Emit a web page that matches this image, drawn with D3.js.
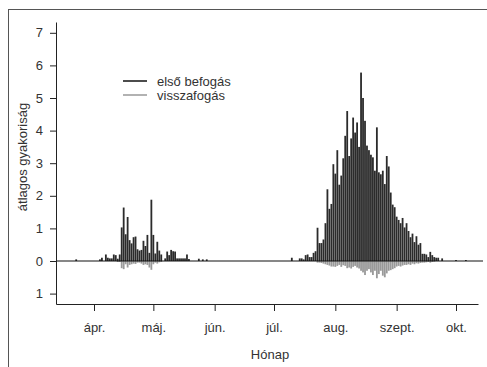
<!DOCTYPE html>
<html>
<head>
<meta charset="utf-8">
<script src="https://cdn.jsdelivr.net/npm/d3@7"></script>
<style>
  html, body { margin: 0; padding: 0; background: #fff; }
  svg { display: block; }
  text { font-family: "Liberation Sans", Arial, Helvetica, sans-serif; }
</style>
</head>
<body>
<svg id="chart" width="487" height="367"></svg>
<script>
// Daily mean frequencies, one value per day starting on day 1 of each month.
// First captures (első befogás), drawn upwards from zero.
const marFirst = [0,0,0,0,0,0,0,0,0,0,0,0,0,0,0,0,0,0,0,0,0,0,0.05];
const aprFirst = [0,0,0,0.05,0.1,0,0.2,0.1,0.08,0.08,
                  0.2,0.18,0.07,0.2,1.03,1.64,0.82,1.35,0.64,0.54,
                  0.73,0.75,0.36,0.32,0.34,0.62,0.46,0.8,0.25,1.88];
const mayFirst = [0.8,0.23,0.59,0.32,0.2,0,0.08,0.29,0.18,0.34,
                  0.3,0.29,0.08,0.08,0.08,0.08,0.08,0.2,0.06,0,
                  0,0,0,0.07,0,0.05,0,0.05,0,0,0];
const junFirst = [];
const julFirst = [0,0,0,0,0,0,0,0,0,0.1,
                  0,0,0,0.08,0.08,0.05,0.18,0.2,0.12,0.12,
                  0.25,0.3,1.02,0.55,0.55,0.66,1.16,2.2,1.6,1.75,
                  2.97];
const augFirst = [2.68,3.4,2.34,2.62,3.15,3.84,4.6,3.22,3.76,4.4,
                  3.94,4.25,3.5,5.78,5.0,4.3,3.54,3.4,3.26,3.18,
                  2.77,4.1,2.72,2.66,2.77,2.36,3.22,2.9,2.1,1.73,
                  1.65];
const sepFirst = [1.36,1.26,1.16,1.32,1.03,1.16,0.92,0.73,0.84,0.58,
                  0.76,0.5,0.55,0.22,0.22,0.2,0.12,0.28,0.18,0.12,
                  0.1,0.1,0,0.08,0,0,0,0,0,0];
const octFirst = [0.03,0,0,0,0,0.03];

// Recaptures (visszafogás), drawn downwards from zero.
const aprRecap = [0,0,0,0,0,0,0,0,0,0,
                  0,0,0.03,0.03,0.22,0.25,0.1,0.2,0.12,0.1,
                  0.08,0.09,0.05,0.05,0.08,0.12,0.1,0.12,0.2,0.27];
const mayRecap = [0.1,0.05,0.08,0.04,0.03];
const julRecap = [0,0,0,0,0,0,0,0,0,0,
                  0,0,0,0,0,0,0,0,0,0,
                  0,0,0.05,0.05,0.06,0.08,0.1,0.12,0.14,0.17,
                  0.17];
const augRecap = [0.18,0.15,0.12,0.18,0.13,0.15,0.22,0.2,0.23,0.18,
                  0.15,0.2,0.23,0.3,0.35,0.43,0.3,0.25,0.35,0.43,
                  0.3,0.53,0.4,0.3,0.45,0.5,0.38,0.3,0.28,0.25,
                  0.22];
const sepRecap = [0.17,0.15,0.17,0.14,0.12,0.12,0.1,0.12,0.08,0.1,
                  0.07,0.08,0.06,0.05,0.05,0.04,0.03,0.05,0.03,0.02];

// Axis labels
const monthLabels = ["ápr.", "máj.", "jún.", "júl.", "aug.", "szept.", "okt."];
const yTicks = [-1, 0, 1, 2, 3, 4, 5, 6, 7];
const legendLabels = ["első befogás", "visszafogás"];

const YEAR = 2001;
function toDaily(monthIndex, values) {
  return values.map((v, i) => ({ date: new Date(Date.UTC(YEAR, monthIndex, i + 1)), value: v }))
               .filter(d => d.value > 0);
}
const firstCaptures = [
  ...toDaily(2, marFirst), ...toDaily(3, aprFirst), ...toDaily(4, mayFirst),
  ...toDaily(5, junFirst), ...toDaily(6, julFirst), ...toDaily(7, augFirst),
  ...toDaily(8, sepFirst), ...toDaily(9, octFirst)
];
const recaptures = [
  ...toDaily(3, aprRecap), ...toDaily(4, mayRecap), ...toDaily(6, julRecap),
  ...toDaily(7, augRecap), ...toDaily(8, sepRecap)
];

const svg = d3.select("#chart");
const plotLeft = 56, plotRight = 478, plotTop = 22, plotBottom = 304;

// Time scale: April 1 and October 1 anchor the month ticks
const xBase = d3.scaleUtc()
  .domain([new Date(Date.UTC(YEAR, 3, 1)), new Date(Date.UTC(YEAR, 9, 1))])
  .range([94, 456]);
const x = xBase.copy()
  .domain([xBase.invert(plotLeft), xBase.invert(plotRight)])
  .range([plotLeft, plotRight]);

const yBase = d3.scaleLinear().domain([0, 7]).range([261, 32.8]);
const y = yBase.copy().domain([yBase.invert(plotBottom), yBase.invert(plotTop)]).range([plotBottom, plotTop]);

// Outer frame
svg.append("rect")
  .attr("x", 8.5).attr("y", 9.5)
  .attr("width", 520).attr("height", 420)
  .attr("fill", "none").attr("stroke", "#555").attr("stroke-width", 1);

// Bars: first captures up, recaptures down
const barW = 1.8;
svg.append("g").selectAll("rect")
  .data(recaptures)
  .join("rect")
  .attr("x", d => x(d.date) - barW / 2)
  .attr("width", barW)
  .attr("y", y(0))
  .attr("height", d => y(-d.value) - y(0))
  .attr("fill", "#999");

svg.append("g").selectAll("rect")
  .data(firstCaptures)
  .join("rect")
  .attr("x", d => x(d.date) - barW / 2)
  .attr("width", barW)
  .attr("y", d => y(d.value))
  .attr("height", d => y(0) - y(d.value))
  .attr("fill", "#2b2b2b");

// Zero line
svg.append("line")
  .attr("x1", plotLeft).attr("x2", 483)
  .attr("y1", y(0)).attr("y2", y(0))
  .attr("stroke", "#111").attr("stroke-width", 1.2);

// Y axis
const yAxis = svg.append("g")
  .attr("transform", `translate(${plotLeft},0)`)
  .call(d3.axisLeft(y).tickValues(yTicks).tickFormat(d => Math.abs(d)).tickSize(6).tickPadding(7).tickSizeOuter(0));
yAxis.select(".domain").attr("stroke", "#222");
yAxis.selectAll(".tick line").attr("stroke", "#222");
yAxis.selectAll(".tick text")
  .attr("font-size", 13).attr("fill", "#333")
  .attr("font-family", "'Liberation Sans', Arial, sans-serif");

// X axis
const monthDates = monthLabels.map((_, i) => new Date(Date.UTC(YEAR, 3 + i, 1)));
const xAxis = svg.append("g")
  .attr("transform", `translate(0,${plotBottom})`)
  .call(d3.axisBottom(x).tickValues(monthDates).tickFormat((d, i) => monthLabels[i]).tickSize(7).tickPadding(12).tickSizeOuter(0));
xAxis.select(".domain").attr("stroke", "#222");
xAxis.selectAll(".tick line").attr("stroke", "#222");
xAxis.selectAll(".tick text")
  .attr("font-size", 13).attr("fill", "#333")
  .attr("font-family", "'Liberation Sans', Arial, sans-serif");

// Axis titles
svg.append("text")
  .attr("x", (plotLeft + plotRight) / 2 + 3).attr("y", 359)
  .attr("text-anchor", "middle")
  .attr("font-size", 13).attr("fill", "#333")
  .text("Hónap");

svg.append("text")
  .attr("transform", `translate(27,${157}) rotate(-90)`)
  .attr("text-anchor", "middle")
  .attr("font-size", 13).attr("fill", "#333")
  .text("átlagos gyakoriság");

// Legend
const legendColors = ["#111", "#999"];
const legend = svg.append("g");
legendLabels.forEach((label, i) => {
  const ly = 81 + i * 14;
  legend.append("line")
    .attr("x1", 123).attr("x2", 147)
    .attr("y1", ly).attr("y2", ly)
    .attr("stroke", legendColors[i]).attr("stroke-width", 1.5);
  legend.append("text")
    .attr("x", 157).attr("y", ly).attr("dy", "0.35em")
    .attr("font-size", 13).attr("fill", "#333")
    .text(label);
});
</script>
</body>
</html>
